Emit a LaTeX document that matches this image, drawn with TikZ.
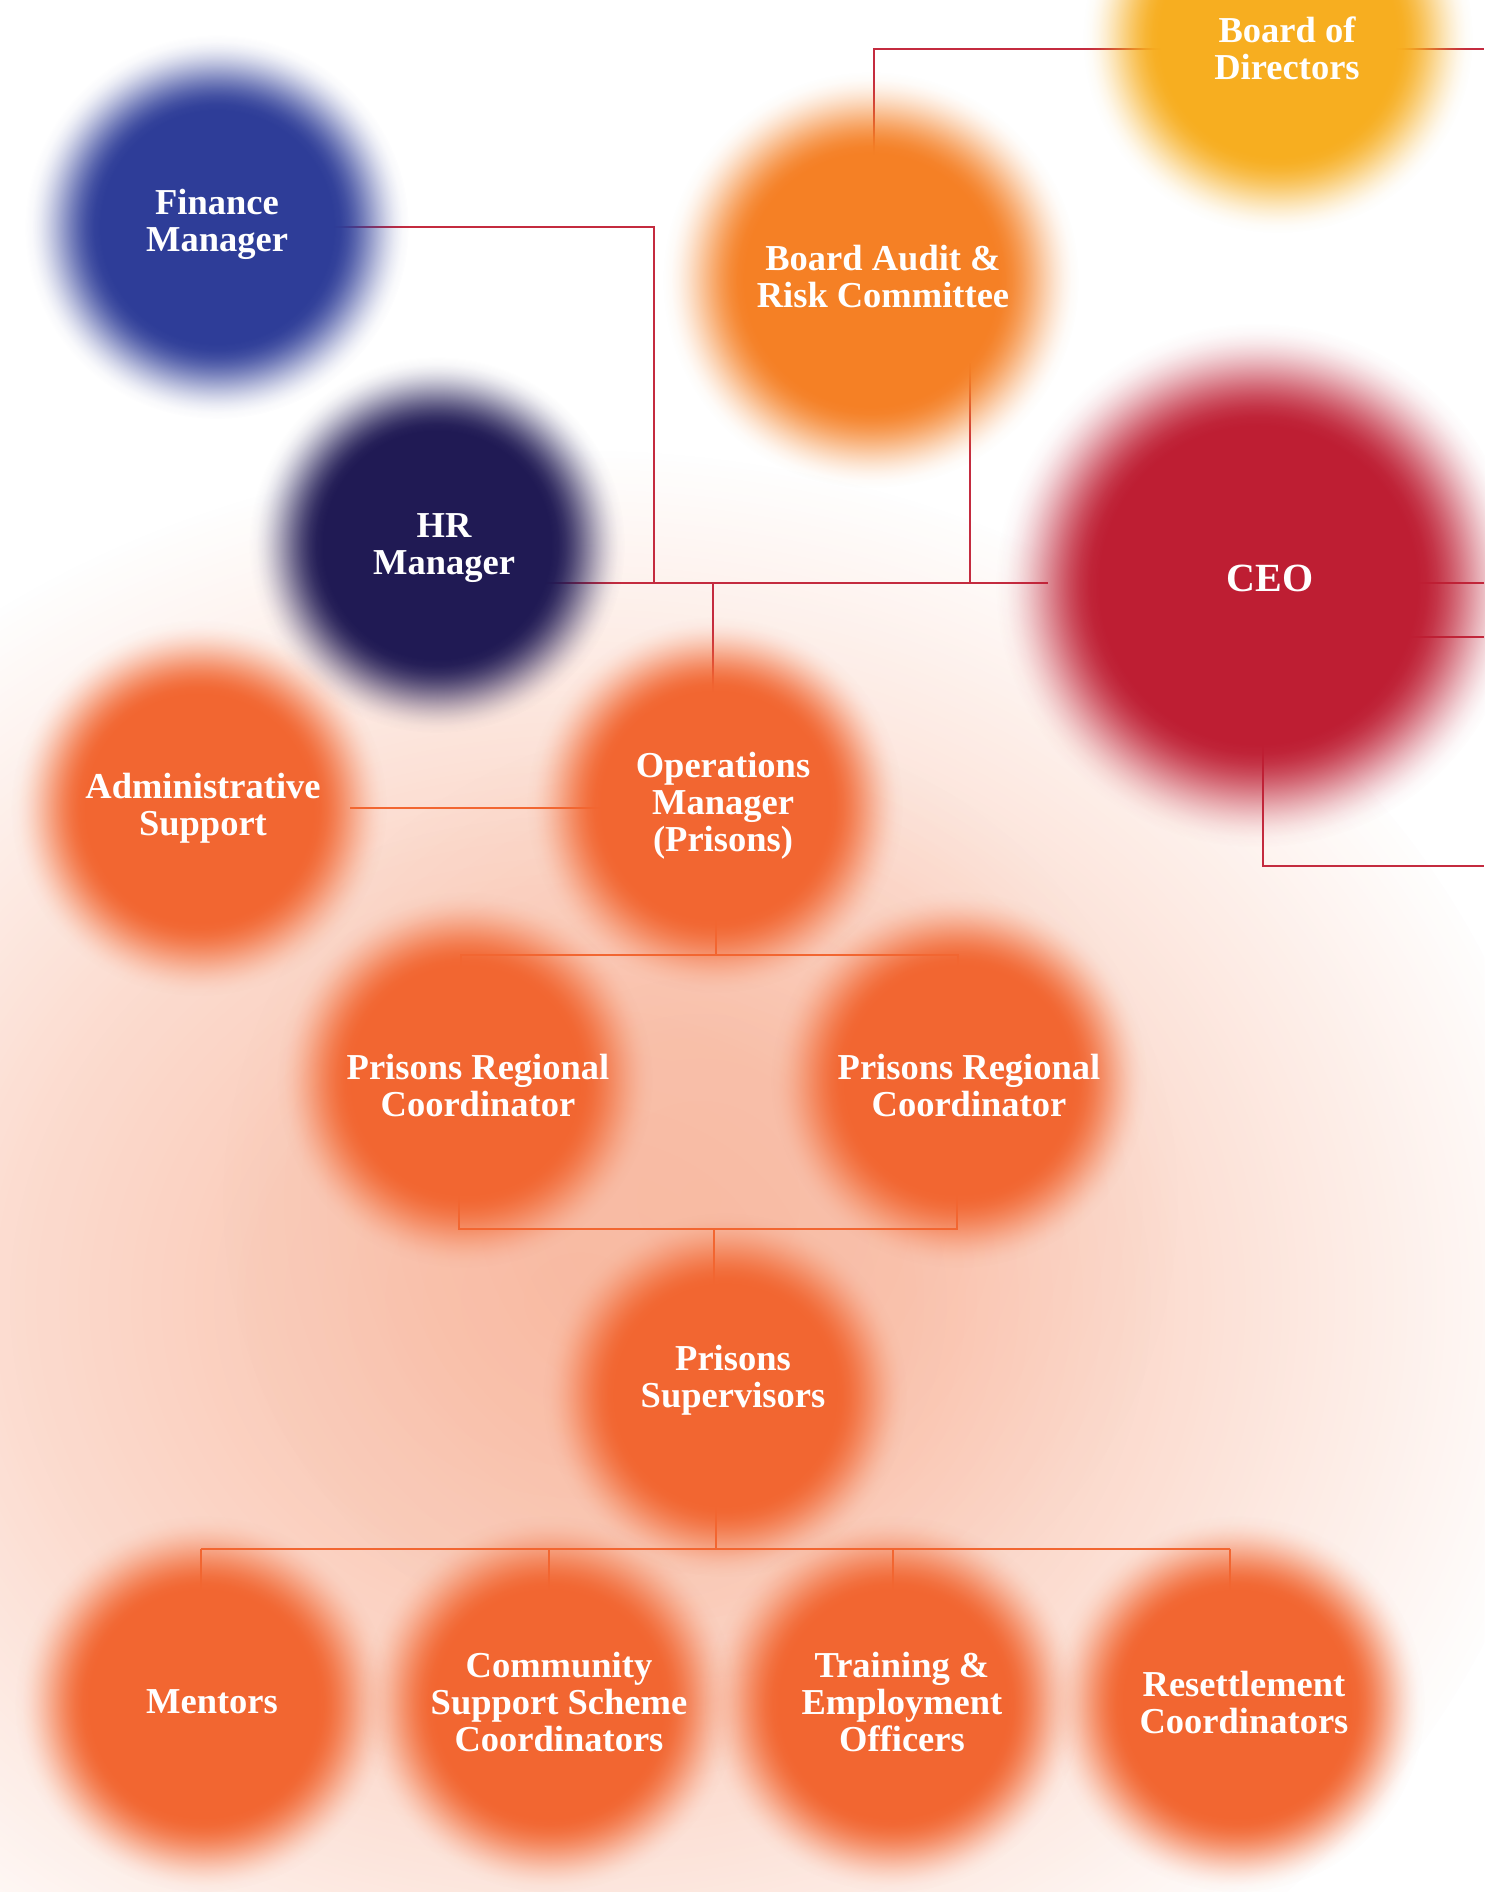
\documentclass[tikz,border=0pt]{standalone}
\usepackage{fontspec}
\setmainfont{Liberation Serif}
\usetikzlibrary{fadings}
\pgfdeclareradialshading{blobsh}{\pgfpointorigin}{color(0bp)=(black!0); color(15bp)=(black!0); color(16bp)=(black!2.8); color(17bp)=(black!10.4); color(18bp)=(black!21.6); color(19bp)=(black!35.2); color(20bp)=(black!50); color(21bp)=(black!64.8); color(22bp)=(black!78.4); color(23bp)=(black!89.6); color(24bp)=(black!97.2); color(25bp)=(black!100); color(50bp)=(black!100)}
\pgfdeclarefading{blobfade}{\pgfuseshading{blobsh}}
\pgfdeclareradialshading{glowsh}{\pgfpointorigin}{color(0bp)=(black!0); color(8bp)=(black!10); color(14bp)=(black!35); color(19bp)=(black!65); color(25bp)=(black!100); color(50bp)=(black!100)}
\pgfdeclarefading{glowfade}{\pgfuseshading{glowsh}}
\definecolor{cYellow}{HTML}{F7AE20}
\definecolor{cAudit}{HTML}{F58025}
\definecolor{cBlue}{HTML}{2E3D98}
\definecolor{cNavy}{HTML}{201A54}
\definecolor{cRed}{HTML}{BE1E33}
\definecolor{cOrange}{HTML}{F26631}
\definecolor{cLineRed}{HTML}{C42B3F}
\tikzset{
  blob/.style={path fading=blobfade},
  lbl/.style={text=white, font=\fontsize{36.5}{37}\selectfont\bfseries, align=center, inner sep=0pt},
  redline/.style={draw=cLineRed, line width=1.6pt},
  orline/.style={draw=cOrange, line width=1.6pt},
}
\begin{document}
\begin{tikzpicture}[x=1pt,y=-1pt]
\useasboundingbox (0,0) rectangle (1484,1892);
\fill[white] (0,0) rectangle (1484,1892);
% background glow
\fill[cOrange, opacity=0.36, path fading=glowfade] (580,1300) ellipse (1000 and 850);
\fill[cOrange, opacity=0.15, path fading=glowfade] (700,1200) ellipse (480 and 480);
% connectors
\coordinate (c1) at (874,177);
\coordinate (c2) at (1484,49);
\coordinate (f1) at (300,227);
\coordinate (j0) at (654,583);
\coordinate (h1) at (537,583);
\coordinate (h2) at (1048,583);
\coordinate (b1) at (970,363);
\coordinate (b2) at (970,583);
\coordinate (o0) at (713,583);
\coordinate (o1) at (713,713);
\coordinate (r1) at (1407,583);
\coordinate (r2) at (1484,583);
\coordinate (r3) at (1380,637);
\coordinate (r4) at (1484,637);
\coordinate (e1) at (1263,735);
\coordinate (e2) at (1484,866);
\coordinate (a1) at (350,808);
\coordinate (a2) at (610,808);
\coordinate (d0) at (716,915);
\coordinate (d1) at (716,955);
\coordinate (pl) at (461,955);
\coordinate (pr) at (958,955);
\coordinate (pl2) at (461,990);
\coordinate (pr2) at (958,990);
\coordinate (ql) at (459,1171);
\coordinate (qr) at (957,1171);
\coordinate (ql2) at (459,1229);
\coordinate (qr2) at (957,1229);
\coordinate (qm) at (714,1229);
\coordinate (qm2) at (714,1300);
\coordinate (s0) at (716,1500);
\coordinate (s1) at (716,1549);
\coordinate (t1) at (201,1549);
\coordinate (t2) at (549,1549);
\coordinate (t3) at (893,1549);
\coordinate (t4) at (1230,1549);
\coordinate (u1) at (201,1606);
\coordinate (u2) at (549,1606);
\coordinate (u3) at (893,1606);
\coordinate (u4) at (1230,1606);
\draw[redline] (c1) |- (c2);
\draw[redline] (f1) -| (j0);
\draw[redline] (h1) -- (h2);
\draw[redline] (b1) -- (b2);
\draw[redline] (o0) -- (o1);
\draw[redline] (r1) -- (r2);
\draw[redline] (r3) -- (r4);
\draw[redline] (e1) |- (e2);
\draw[orline] (a1) -- (a2);
\draw[orline] (d0) -- (d1);
\draw[orline] (pl2) -- (pl) -- (pr) -- (pr2);
\draw[orline] (ql) -- (ql2) -- (qr2) -- (qr);
\draw[orline] (qm) -- (qm2);
\draw[orline] (s0) -- (s1);
\draw[orline] (t1) -- (t4);
\draw[orline] (t1) -- (u1);
\draw[orline] (t2) -- (u2);
\draw[orline] (t3) -- (u3);
\draw[orline] (t4) -- (u4);
% blobs
\fill[cYellow, blob] (1278,38) circle (195);
\fill[cAudit, blob] (871,280) circle (208);
\fill[cBlue, blob] (217,227) circle (192);
\fill[cNavy, blob] (437,545) circle (188);
\fill[cRed, blob] (1258,585) circle (262);
\fill[cOrange, blob] (199,808) circle (188);
\fill[cOrange, blob] (715,805) circle (188);
\fill[cOrange, blob] (465,1080) circle (188);
\fill[cOrange, blob] (959,1080) circle (188);
\fill[cOrange, blob] (725,1395) circle (182);
\fill[cOrange, blob] (203,1704) circle (188);
\fill[cOrange, blob] (549,1704) circle (188);
\fill[cOrange, blob] (893,1704) circle (188);
\fill[cOrange, blob] (1237,1704) circle (188);
% labels
\node[lbl] (bod) at (1287,48) {Board of\\Directors};
\node[lbl] (bar) at (883,277) {Board Audit \&\\Risk Committee};
\node[lbl] (fin) at (217,224) {Finance\\Manager};
\node[lbl] (hr) at (444,548) {HR\\Manager};
\node[lbl, font=\fontsize{40}{44}\selectfont\bfseries] (ceo) at (1270,578) {CEO};
\node[lbl] (adm) at (203,808) {Administrative\\Support};
\node[lbl] (ops) at (723,806) {Operations\\Manager\\(Prisons)};
\node[lbl] (prc1) at (478,1086) {Prisons Regional\\Coordinator};
\node[lbl] (prc2) at (969,1086) {Prisons Regional\\Coordinator};
\node[lbl] (sup) at (733,1380) {Prisons\\Supervisors};
\node[lbl] (men) at (212,1702) {Mentors};
\node[lbl] (css) at (559,1702) {Community\\Support Scheme\\Coordinators};
\node[lbl] (tee) at (902,1702) {Training \&\\Employment\\Officers};
\node[lbl] (res) at (1244,1702) {Resettlement\\Coordinators};
\end{tikzpicture}
\end{document}
